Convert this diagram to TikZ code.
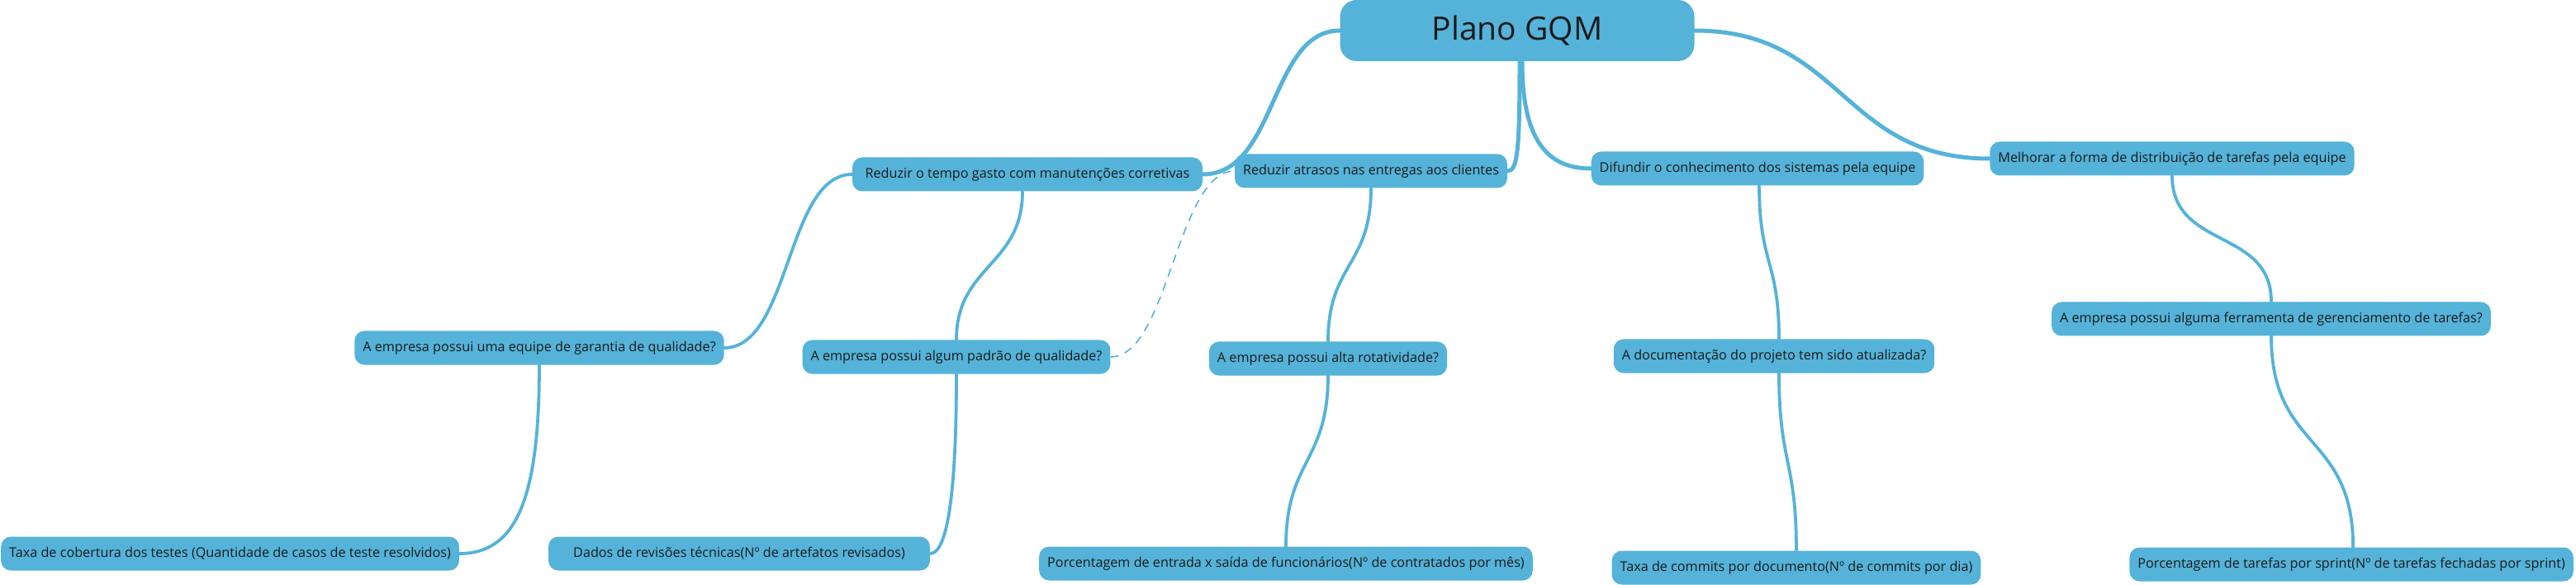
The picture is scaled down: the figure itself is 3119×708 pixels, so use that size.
\documentclass[tikz,border=0pt]{standalone}
\usepackage{fontspec}
\setmainfont{Open Sans}
\definecolor{gqmblue}{HTML}{55B3D9}
\definecolor{gqmtext}{HTML}{1A1A1A}
\tikzset{
  box/.style={fill=gqmblue, draw=none, rounded corners=12pt, inner xsep=10pt, inner ysep=0pt,
    minimum height=41pt, text=gqmtext, font=\fontsize{16.2}{19}\selectfont},
  rootbox/.style={fill=gqmblue, draw=none, rounded corners=20pt, minimum width=429pt,
    minimum height=74pt, text=gqmtext, font=\fontsize{39}{46}\selectfont},
  thick link/.style={draw=gqmblue, line width=5pt, line cap=round},
  link/.style={draw=gqmblue, line width=3.8pt, line cap=round},
  dlink/.style={draw=gqmblue, line width=1.6pt, dash pattern=on 10pt off 8pt}
}
\begin{document}
\begin{tikzpicture}[x=1pt,y=-1pt]
\useasboundingbox (0,0) rectangle (3119,708);
% nodes
\node[rootbox] (root) at (1837,37) {Plano GQM};
\node[box, minimum width=424pt] (g1) at (1244,211) {Reduzir o tempo gasto com manutenções corretivas};
\node[box] (g2) at (1660,207) {Reduzir atrasos nas entregas aos clientes};
\node[box] (g3) at (2128,204) {Difundir o conhecimento dos sistemas pela equipe};
\node[box] (g4) at (2630,192) {Melhorar a forma de distribuição de tarefas pela equipe};
\node[box] (q1) at (653,421) {A empresa possui uma equipe de garantia de qualidade?};
\node[box] (q2) at (1158,432) {A empresa possui algum padrão de qualidade?};
\node[box] (q3) at (1608,434) {A empresa possui alta rotatividade?};
\node[box] (q4) at (2148,431) {A documentação do projeto tem sido atualizada?};
\node[box] (q5) at (2750,386) {A empresa possui alguma ferramenta de gerenciamento de tarefas?};
\node[box, anchor=west] (m1) at (1,670) {Taxa de cobertura dos testes (Quantidade de casos de teste resolvidos)};
\node[box, minimum width=462pt] (m2) at (895,670) {Dados de revisões técnicas(Nº de artefatos revisados)};
\node[box] (m3) at (1557,682) {Porcentagem de entrada x saída de funcionários(Nº de contratados por mês)};
\node[box] (m4) at (2175,687) {Taxa de commits por documento(Nº de commits por dia)};
\node[box, anchor=east] (m5) at (3116,683) {Porcentagem de tarefas por sprint(Nº de tarefas fechadas por sprint)};
% root links
\draw[thick link] (root.west) .. controls +(-85,0) and +(90,0) .. (g1.east);
\draw[thick link] ([xshift=3pt]root.south) .. controls +(0,110) and +(12,0) .. (g2.east);
\draw[thick link] ([xshift=6pt]root.south) .. controls +(0,100) and +(-50,0) .. (g3.west);
\draw[thick link] (root.east) .. controls +(180,0) and +(-180,0) .. (g4.west);
% goal -> question
\draw[link] (g1.west) .. controls +(-80,0) and +(80,0) .. (q1.east);
\draw[link] ([xshift=-6pt]g1.south) .. controls +(0,90) and +(0,-90) .. (q2.north);
\draw[link] (g2.south) .. controls +(0,95) and +(0,-95) .. (q3.north);
\draw[link] ([xshift=2pt]g3.south) .. controls +(0,95) and +(0,-95) .. ([xshift=6pt]q4.north);
\draw[link] (g4.south) .. controls +(0,90) and +(0,-90) .. (q5.north);
% question -> metric
\draw[link] (q1.south) .. controls +(0,160) and +(70,0) .. (m1.east);
\draw[link] (q2.south) .. controls +(0,150) and +(20,0) .. (m2.east);
\draw[link] (q3.south) .. controls +(0,105) and +(0,-105) .. (m3.north);
\draw[link] ([xshift=6pt]q4.south) .. controls +(0,110) and +(0,-110) .. (m4.north);
\draw[link] (q5.south) .. controls +(0,140) and +(0,-140) .. ([xshift=2pt]m5.north);
% dashed
\draw[dlink] (q2.east) .. controls +(70,0) and +(-70,0) .. (g2.west);
\end{tikzpicture}
\end{document}
